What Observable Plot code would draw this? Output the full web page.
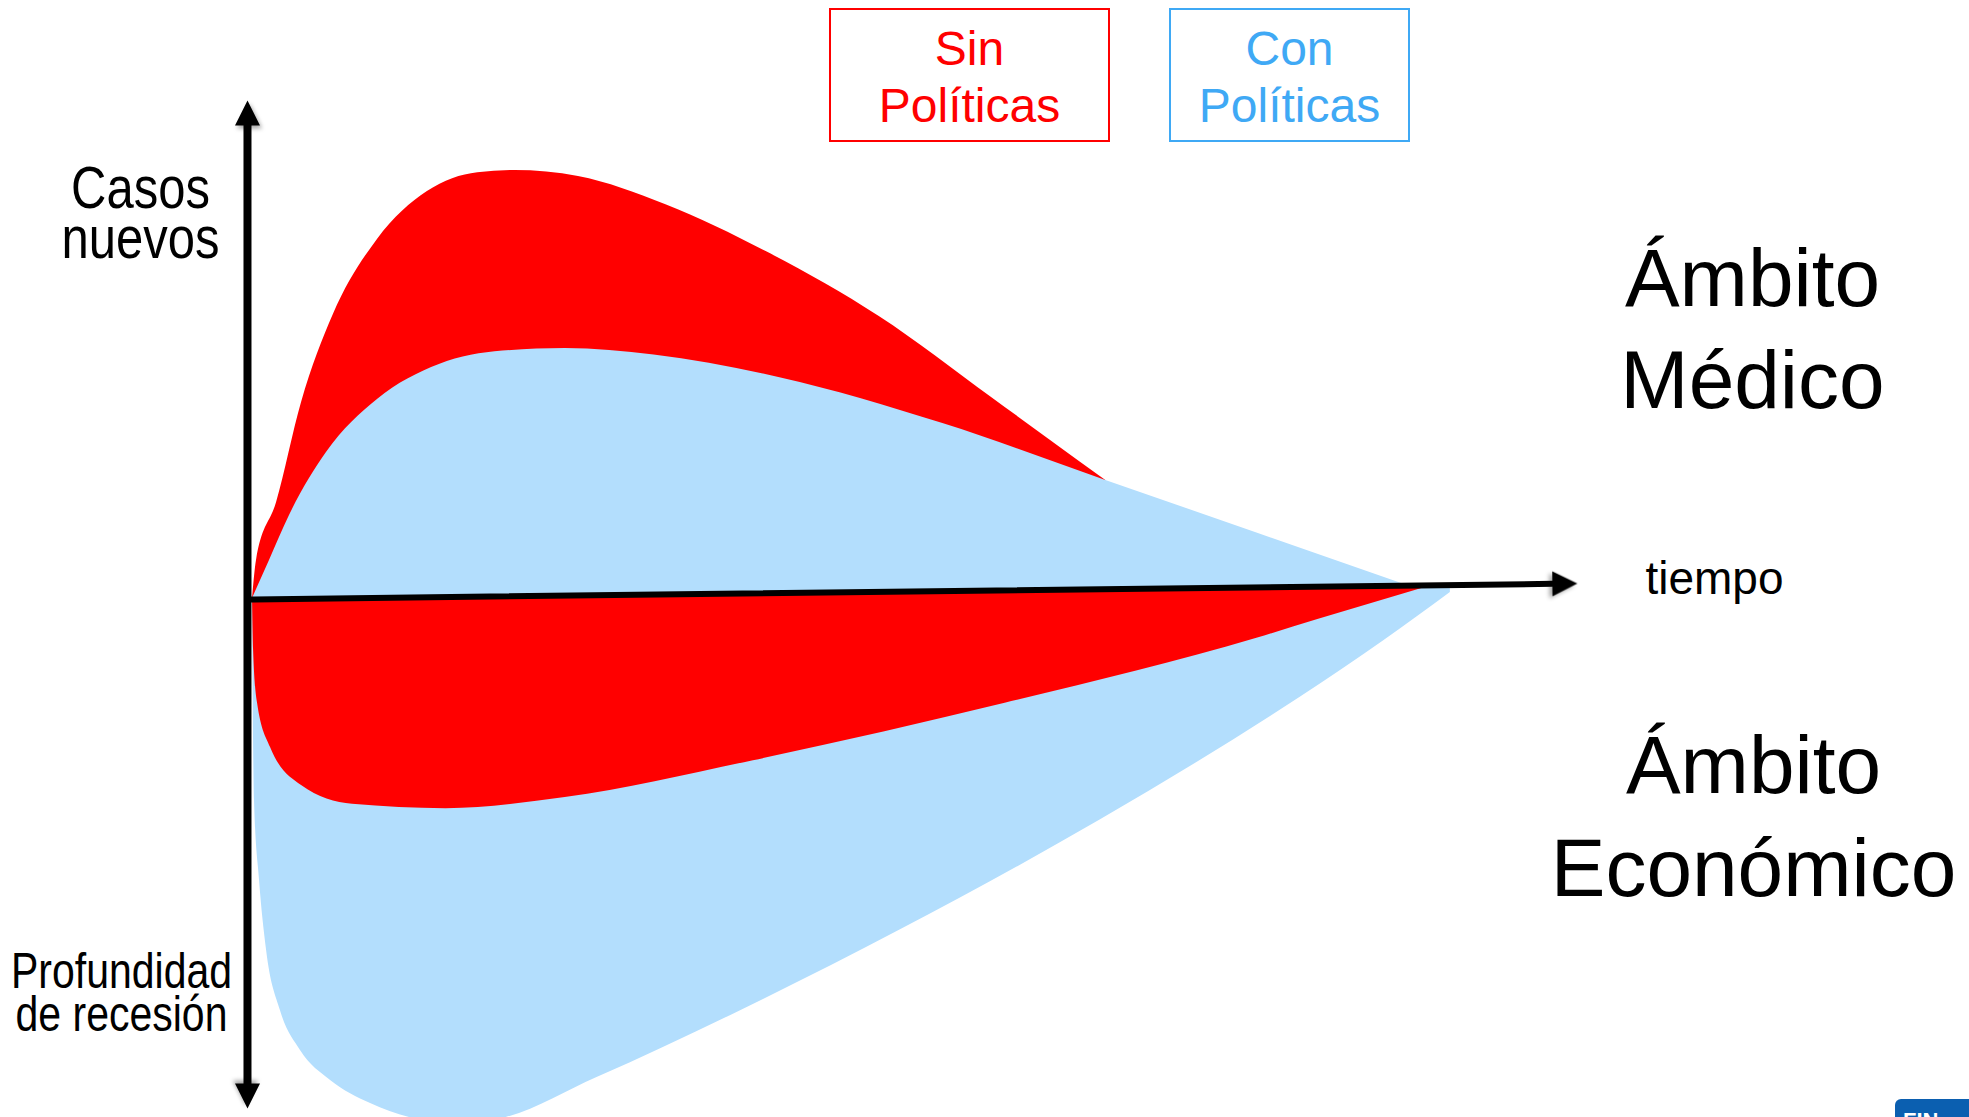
<!DOCTYPE html>
<html>
<head>
<meta charset="utf-8">
<script src="https://cdn.jsdelivr.net/npm/d3@7"></script>
<script src="https://cdn.jsdelivr.net/npm/@observablehq/plot@0.6"></script>
<style>
  html, body { margin: 0; padding: 0; background: #fff; overflow: hidden; }
  #wrap { position: relative; width: 1969px; height: 1117px; font-family: "Liberation Sans", Arial, sans-serif; }
  #wrap svg { display: block; }
  .legend { position: absolute; box-sizing: border-box; text-align: center; font-size: 48px; line-height: 57px; padding-top: 10px; }
  .logo { position: absolute; left: 1895px; top: 1099px; width: 110px; height: 40px; background: #0b5fb0; border-radius: 6px; color: #fff; font-weight: bold; font-size: 22px; padding: 9px 0 0 8px; box-sizing: border-box; }
</style>
</head>
<body>
<div id="wrap"></div>
<script>
// ---- Data (time t, value v; v>0 = new cases, v<0 = recession depth) ----
const redTopT   = [0, 0.3, 1.81, 3.70, 6.11, 9.43, 13.2, 17.0, 19.8, 24.6, 31.2, 38.8, 47.3, 55.8, 60.2, 64.4];
const redTopV   = [0, 8.9, 22.4, 45.8, 66.4, 83.9, 95.1, 99.5, 100, 98.6, 92.0, 81.0, 65.9, 46.9, 37.0, 27.6];

const blueTopT  = [0, 1.28, 2.79, 5.58, 9.43, 14.1, 18.9, 23.6, 30.3, 39.8, 52.1, 64.4, 75.8, 87.1];
const blueTopV  = [0, 8.9, 19.4, 34.1, 46.5, 54.7, 57.8, 58.4, 56.9, 51.6, 40.9, 27.6, 15.3, 3.1];

const redBotT    = [0, 0.08, 0.38, 1.36, 3.70, 7.55, 14.6, 23.6, 37.8, 56.8, 75.8, 80.4, 88.5];
const redBotV    = [0, -12.1, -24.5, -34.8, -43.7, -48.1, -49.1, -46.5, -37.9, -24.5, -9.3, -4.9, 2.6];
const redBotBase = [0, 0, 0.01, 0.05, 0.13, 0.26, 0.51, 0.83, 1.32, 1.99, 2.65, 2.81, 3.10];

const blueBotT    = [0, 0.05, 0.15, 0.53, 1.06, 2.11, 3.62, 5.89, 8.91, 11.9, 14.9, 18.0, 26.0, 36.1, 48.9, 64.0, 79.1, 85.4, 90.4];
const blueBotV    = [0, -23.8, -47.2, -65.9, -82.2, -96.3, -105.6, -112.6, -118.0, -121.3, -122.4, -121.9, -111.9, -97.4, -77.4, -51.7, -23.0, -9.8, 1.4];
const blueBotBase = [0, 0, 0.01, 0.02, 0.04, 0.07, 0.13, 0.21, 0.31, 0.42, 0.52, 0.63, 0.91, 1.26, 1.71, 2.24, 2.77, 2.99, 3.16];

// axes (time axis slightly tilted as in the picture)
const timeAxisT  = [-0.38, 98.1];
const timeAxisV  = [-0.23, 3.43];
const valueAxisT = [-0.38, -0.38];
const valueAxisV = [-113.3, 110.5];
const headT      = [-0.38, -0.38, 98.1];
const headV      = [110.5, -113.3, 3.43];
const headAngle  = [0, 180, 89.35];

const legendLabels = ["Sin\nPolíticas", "Con\nPolíticas"];
const labelCases   = "Casos\nnuevos";
const labelDepth   = "Profundidad\nde recesión";
const labelTime    = "tiempo";
const labelMed     = "Ámbito\nMédico";
const labelEco     = "Ámbito\nEconómico";

// ---- build tables ----
const zip = (T, V, B) => T.map((t, i) => ({t, v: V[i], base: B ? B[i] : 0}));
const redTop  = zip(redTopT, redTopV);
const blueTop = zip(blueTopT, blueTopV);
const redBot  = zip(redBotT, redBotV, redBotBase);
const blueBot = zip(blueBotT, blueBotV, blueBotBase);
const timeAxis  = zip(timeAxisT, timeAxisV);
const valueAxis = zip(valueAxisT, valueAxisV);
const heads = headT.map((t, i) => ({t, v: headV[i], angle: headAngle[i]}));

const RED = "#ff0000", LIGHTBLUE = "#b3defd", BLUE = "#3fa9f5";

const arrowHead = {
  draw(ctx, size) {
    const r = Math.sqrt(size / Math.PI);
    const h = 2.5 * r, w = 2.5 * r;
    ctx.moveTo(0, -h);
    ctx.lineTo(w / 2, 0);
    ctx.lineTo(-w / 2, 0);
    ctx.closePath();
  }
};

const font = "Liberation Sans, Arial, Helvetica, sans-serif";

const chart = Plot.plot({
  width: 1969,
  height: 1117,
  margin: 0,
  x: {domain: [-19.02, 129.58], axis: null},
  y: {domain: [-121.26, 139.72], axis: null},
  style: {background: "white", fontFamily: font, color: "black"},
  marks: [
    Plot.area(redTop,  {x1: "t", y1: "base", y2: "v", fill: RED, curve: "monotone-x"}),
    Plot.area(blueTop, {x1: "t", y1: "base", y2: "v", fill: LIGHTBLUE, curve: "monotone-x"}),
    Plot.area(blueBot, {x1: "t", y1: "base", y2: "v", fill: LIGHTBLUE, curve: "monotone-x"}),
    Plot.area(redBot,  {x1: "t", y1: "base", y2: "v", fill: RED, curve: "monotone-x"}),
    Plot.line(timeAxis,  {x: "t", y: "v", stroke: "black", strokeWidth: 6}),
    Plot.line(valueAxis, {x: "t", y: "v", stroke: "black", strokeWidth: 8}),
    Plot.dot(heads, {x: "t", y: "v", symbol: arrowHead, r: 10, fill: "black", rotate: "angle"}),
    Plot.text([labelCases], {frameAnchor: "top-left", dx: 140, dy: 257, text: d => d, fontSize: 49, lineHeight: 0.85, lineAnchor: "bottom", textAnchor: "middle", fill: "black"}),
    Plot.text([labelDepth], {frameAnchor: "top-left", dx: 121, dy: 1030, text: d => d, fontSize: 41, lineHeight: 0.868, lineAnchor: "bottom", textAnchor: "middle", fill: "black"}),
    Plot.text([labelTime], {frameAnchor: "top-left", dx: 1714, dy: 593, text: d => d, fontSize: 46, lineAnchor: "bottom", textAnchor: "middle", fill: "black"}),
    Plot.text([labelMed], {frameAnchor: "top-left", dx: 1752, dy: 407, text: d => d, fontSize: 82, lineHeight: 1.244, lineAnchor: "bottom", textAnchor: "middle", fill: "black"}),
    Plot.text([labelEco], {frameAnchor: "top-left", dx: 1753, dy: 895, text: d => d, fontSize: 82, lineHeight: 1.256, lineAnchor: "bottom", textAnchor: "middle", fill: "black"})
  ]
});

// vertical stretch of the two left labels, as in the picture
chart.querySelectorAll("text").forEach(el => {
  const s = el.textContent;
  if (s.startsWith("Casos") || s.startsWith("Profundidad")) {
    const tr = el.getAttribute("transform") || "";
    el.setAttribute("transform", (tr + " scale(1,1.2)").trim());
  }
});
// soft shadow under the arrow heads
chart.querySelectorAll("path").forEach(p => {
  if (p.getAttribute("transform") && /rotate/.test(p.getAttribute("transform"))) {
    p.style.filter = "drop-shadow(2px 3px 2px rgba(0,0,0,0.35))";
  }
});

const wrap = document.getElementById("wrap");
wrap.appendChild(chart);

// legend boxes
const legendColors = [RED, BLUE];
const legendBoxes = [{left: 829, width: 281}, {left: 1169, width: 241}];
legendLabels.forEach((lab, i) => {
  const d = document.createElement("div");
  d.className = "legend";
  d.style.left = legendBoxes[i].left + "px";
  d.style.top = "8px";
  d.style.width = legendBoxes[i].width + "px";
  d.style.height = "134px";
  d.style.border = "2px solid " + legendColors[i];
  d.style.color = legendColors[i];
  d.innerHTML = lab.split("\n").join("<br>");
  wrap.appendChild(d);
});

const logo = document.createElement("div");
logo.className = "logo";
logo.textContent = "FIN";
wrap.appendChild(logo);
</script>
</body>
</html>
